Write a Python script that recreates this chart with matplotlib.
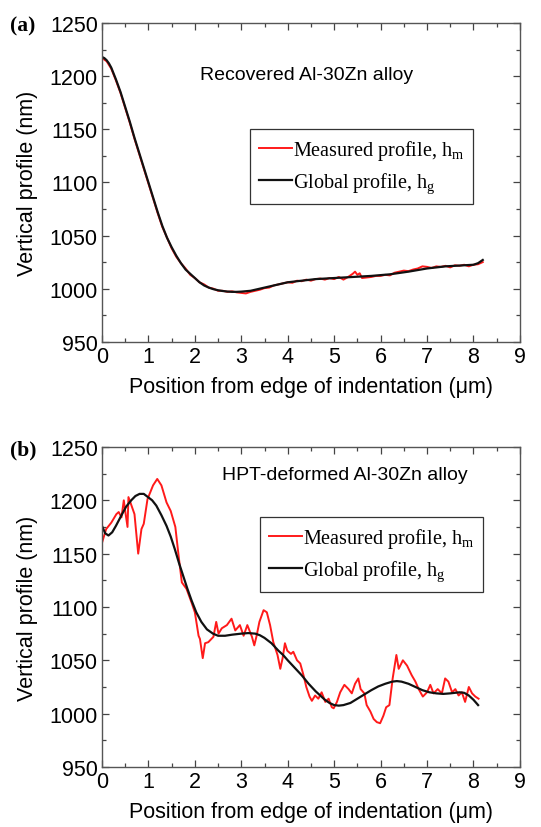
import numpy as np
import matplotlib.pyplot as plt
from matplotlib.ticker import MultipleLocator

# (a) Recovered Al-30Zn alloy
xa_g = [0.0, 0.05, 0.1, 0.15, 0.2, 0.3, 0.4, 0.5, 0.6, 0.7, 0.8, 0.9, 1.0, 1.1,
        1.2, 1.3, 1.4, 1.5, 1.6, 1.7, 1.8, 1.9, 2.0, 2.1, 2.2, 2.3, 2.4, 2.5,
        2.6, 2.7, 2.8, 2.9, 3.0, 3.2, 3.4, 3.6, 3.8, 4.0, 4.3, 4.6, 5.0, 5.4,
        5.8, 6.2, 6.6, 7.0, 7.4, 7.8, 8.0, 8.1, 8.2]
ya_g = [1218, 1217, 1215, 1212, 1208, 1197, 1185, 1171, 1157, 1142, 1128, 1114,
        1100, 1086, 1072, 1059, 1048, 1039, 1031, 1024, 1018, 1014, 1010, 1006,
        1003, 1001, 999.5, 998.5, 997.8, 997.3, 997, 997, 997.2, 998, 1000,
        1002, 1004, 1006, 1007.5, 1009, 1010, 1011, 1012, 1013.5, 1016, 1019,
        1021, 1022, 1022.5, 1024, 1027]

xa_m = [0.0, 0.1, 0.2, 0.3, 0.4, 0.5, 0.6, 0.7, 0.8, 0.9, 1.0, 1.1, 1.2, 1.3,
        1.4, 1.5, 1.6, 1.7, 1.8, 1.9, 2.0, 2.1, 2.2, 2.3, 2.4, 2.5, 2.6, 2.7,
        2.8, 2.9, 3.0, 3.1, 3.2, 3.3, 3.4, 3.5, 3.6, 3.7, 3.8, 3.9, 4.0, 4.1,
        4.2, 4.3, 4.4, 4.5, 4.6, 4.7, 4.8, 4.9, 5.0, 5.1, 5.2, 5.3, 5.4, 5.45,
        5.5, 5.55, 5.6, 5.7, 5.8, 5.9, 6.0, 6.1, 6.2, 6.3, 6.4, 6.5, 6.6, 6.7,
        6.8, 6.9, 7.0, 7.1, 7.2, 7.3, 7.4, 7.5, 7.6, 7.7, 7.8, 7.9, 8.0, 8.1,
        8.2]
ya_m = [1217, 1214, 1207, 1196, 1184, 1170, 1156, 1141, 1127, 1113, 1099,
        1085, 1071, 1058, 1048, 1038, 1030, 1024, 1019, 1013, 1010, 1006, 1004,
        1001, 1000, 998, 998, 997, 997.5, 996.5, 996, 995.5, 997, 998, 999,
        1000.5, 1001, 1003, 1004, 1005, 1006, 1005.5, 1007.5, 1007, 1008.5,
        1007.5, 1009, 1009.5, 1008.5, 1010, 1009, 1011, 1008.5, 1011, 1014,
        1016, 1013, 1014.5, 1010, 1010.5, 1011, 1012, 1012, 1013, 1012.5, 1015,
        1016, 1017, 1016.5, 1018, 1019, 1021, 1020.5, 1019.5, 1021, 1020.5,
        1021.5, 1020, 1022, 1021.5, 1022.5, 1021, 1022.5, 1023, 1025]

# (b) HPT-deformed Al-30Zn alloy
xb_g = [0.0, 0.07, 0.14, 0.22, 0.3, 0.42, 0.52, 0.63, 0.72, 0.81, 0.9, 0.99,
        1.08, 1.17, 1.28, 1.39, 1.48, 1.57, 1.66, 1.75, 1.84, 1.93, 2.03, 2.14,
        2.26, 2.39, 2.5, 2.65, 2.8, 3.0, 3.15, 3.3, 3.4, 3.5, 3.65, 3.8, 3.9,
        4.0, 4.15, 4.3, 4.45, 4.6, 4.7, 4.8, 4.9, 5.0, 5.1, 5.2, 5.35, 5.5,
        5.65, 5.8, 5.95, 6.1, 6.25, 6.35, 6.45, 6.6, 6.75, 6.9, 7.05, 7.2, 7.35,
        7.5, 7.6, 7.7, 7.8, 7.9, 8.0, 8.1]
yb_g = [1176, 1169, 1167, 1170, 1176, 1186, 1194, 1200, 1204, 1206, 1206,
        1203, 1200, 1195, 1186, 1176, 1166, 1154, 1141, 1129, 1117, 1106,
        1095, 1086, 1079, 1075, 1073, 1073, 1074, 1075, 1075.5, 1075, 1073.5,
        1071, 1066, 1059, 1055, 1050, 1043, 1036, 1028, 1021, 1017, 1013, 1010,
        1008, 1007.5, 1008, 1010, 1014, 1018, 1022, 1025.5, 1028, 1030, 1030.5,
        1030, 1028, 1025, 1022, 1020, 1019, 1018.5, 1019, 1019.5, 1020, 1019.5,
        1017, 1013, 1008]

xb_m = [0.0, 0.02, 0.09, 0.2, 0.31, 0.36, 0.42, 0.47, 0.5, 0.55, 0.57, 0.62,
        0.7, 0.78, 0.85, 0.9, 0.98, 1.1, 1.19, 1.28, 1.39, 1.48, 1.58, 1.65,
        1.72, 1.82, 1.93, 2.0, 2.08, 2.11, 2.17, 2.22, 2.29, 2.4, 2.46, 2.51,
        2.58, 2.69, 2.79, 2.87, 2.97, 3.05, 3.13, 3.23, 3.28, 3.33, 3.39, 3.48,
        3.55, 3.62, 3.69, 3.78, 3.84, 3.89, 3.94, 3.99, 4.07, 4.12, 4.2, 4.27,
        4.34, 4.4, 4.47, 4.52, 4.59, 4.66, 4.73, 4.81, 4.88, 4.95, 4.99, 5.06,
        5.13, 5.22, 5.31, 5.38, 5.45, 5.52, 5.57, 5.65, 5.7, 5.78, 5.85, 5.92,
        5.99, 6.06, 6.12, 6.19, 6.26, 6.34, 6.39, 6.48, 6.57, 6.67, 6.75, 6.82,
        6.91, 7.0, 7.07, 7.14, 7.23, 7.32, 7.39, 7.46, 7.54, 7.61, 7.68, 7.75,
        7.82, 7.9, 7.97, 8.04, 8.11]
yb_m = [1160, 1163, 1173, 1179, 1187, 1189, 1184, 1200, 1190, 1175, 1203,
        1197, 1187, 1150, 1173, 1178, 1201, 1214, 1220, 1214, 1198, 1190, 1175,
        1148, 1123, 1117, 1104, 1095, 1073, 1070, 1052, 1066, 1067, 1072, 1086,
        1075, 1080, 1083, 1089, 1078, 1083, 1073, 1083, 1072, 1064, 1073, 1086,
        1097, 1095, 1083, 1067, 1055, 1042, 1052, 1066, 1059, 1056, 1058, 1050,
        1047, 1036, 1025, 1016, 1012, 1017, 1014, 1020, 1011, 1014, 1006, 1005,
        1011, 1020, 1027, 1023, 1019, 1028, 1033, 1023, 1019, 1008, 1002, 995,
        992, 991, 998, 1006, 1008, 1033, 1055, 1042, 1050, 1045, 1036, 1030,
        1023, 1016, 1020, 1027, 1019, 1023, 1019, 1033, 1030, 1020, 1023, 1017,
        1020, 1011, 1025, 1019, 1016, 1014]

xticks = [0, 1, 2, 3, 4, 5, 6, 7, 8, 9]
yticks = [950, 1000, 1050, 1100, 1150, 1200, 1250]

plt.rcParams['font.family'] = ['Liberation Sans', 'DejaVu Sans']
serif = ['Liberation Serif', 'DejaVu Serif']

fig = plt.figure(figsize=(5.41, 8.28), dpi=100)
ax1 = fig.add_axes([0.1885, 0.586, 0.7725, 0.385])
ax2 = fig.add_axes([0.1885, 0.0725, 0.7725, 0.3865])

panels = [
    (ax1, xa_m, ya_m, xa_g, ya_g, '(a)', 'Recovered Al-30Zn alloy',
     (0.234, 0.837), (0.354, 0.667)),
    (ax2, xb_m, yb_m, xb_g, yb_g, '(b)', 'HPT-deformed Al-30Zn alloy',
     (0.287, 0.9125), (0.378, 0.781)),
]

for ax, xm, ym, xg, yg, tag, note, note_pos, leg_pos in panels:
    ax.plot(xm, ym, color='#ff1a1a', lw=1.4, label='Measured profile, h$_\\mathregular{m}$')
    ax.plot(xg, yg, color='#111111', lw=1.6, label='Global profile, h$_\\mathregular{g}$')
    ax.set_xlim(0, 9)
    ax.set_ylim(950, 1250)
    ax.set_xticks(xticks)
    ax.set_yticks(yticks)
    ax.xaxis.set_minor_locator(MultipleLocator(0.5))
    ax.yaxis.set_minor_locator(MultipleLocator(25))
    ax.tick_params(which='both', direction='in', top=True, right=True,
                   labelsize=15.5, width=0.9, color='#444444')
    ax.tick_params(which='major', length=5, pad=3)
    ax.tick_params(which='minor', length=3)
    for s in ax.spines.values():
        s.set_color('#555555')
        s.set_linewidth(1.0)
    ax.set_xlabel('Position from edge of indentation (\u03bcm)', fontsize=15.5, labelpad=6.5)
    ax.set_ylabel('Vertical profile (nm)', fontsize=15.5, labelpad=8)
    ax.text(note_pos[0], note_pos[1], note, transform=ax.transAxes,
            fontsize=14, va='center', ha='left')
    fig.text(0.018, ax.get_position().y1 - 0.003, tag, fontsize=15.5,
             fontweight='bold', family=serif, va='center', ha='left')
    leg = ax.legend(loc='upper left', bbox_to_anchor=leg_pos, frameon=True,
                    fancybox=False, edgecolor='#333333', framealpha=1,
                    prop={'family': serif, 'size': 14.5}, handlelength=1.65,
                    handletextpad=0.05, borderpad=0.45, labelspacing=0.4,
                    borderaxespad=0)
    leg.get_frame().set_linewidth(0.9)

fig.savefig('out.png', dpi=100)
